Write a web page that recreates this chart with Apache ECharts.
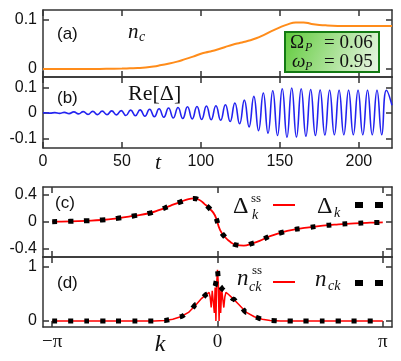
<!DOCTYPE html>
<html>
<head>
<meta charset="utf-8">
<script src="https://cdn.jsdelivr.net/npm/echarts@6.0.0/dist/echarts.min.js"></script>
<style>
html, body { margin: 0; padding: 0; background: #fff; }
#main { width: 401px; height: 361px; }
</style>
</head>
<body>
<div id="main"></div>
<script>
// (a) cavity occupation n_c(t)
var ncTime = [0, 10, 20, 30, 40, 50, 55, 60, 65, 70, 75, 80, 85, 90, 95, 100, 105, 110, 115, 120,
    125, 130, 135, 140, 145, 150, 155, 160, 165, 170, 175, 180, 190, 200, 210, 221];
var ncValue = [0, 0, 0, 0, 0.0005, 0.001, 0.0015, 0.002, 0.003, 0.005, 0.008, 0.011, 0.015, 0.020, 0.025, 0.031, 0.035, 0.039, 0.044, 0.049,
    0.053, 0.057, 0.062, 0.069, 0.077, 0.084, 0.090, 0.094, 0.094, 0.091, 0.089, 0.088, 0.087, 0.087, 0.087, 0.087];

var reTime = [0, 1.5, 4.5, 7.5, 10.5, 13.5, 16.5, 19.5, 22.5, 25.5,
    28.5, 31.5, 34.5, 37.5, 40.5, 43.5, 46.5, 49.5, 52.5, 55.5,
    58.5, 61.5, 64.5, 67.5, 70.5, 73.5, 76.5, 79.5, 82.5, 85.5,
    88.5, 91.5, 94.5, 97.5, 100.5, 103.5, 106.5, 109.5, 112.5, 115.5,
    118.5, 121.5, 124.5, 127.5, 130.5, 133.5, 136.5, 139.5, 142.5, 145.5,
    148.5, 151.5, 154.5, 157.5, 160.5, 163.5, 166.5, 169.5, 172.5, 175.5,
    178.5, 181.5, 184.5, 187.5, 190.5, 193.5, 196.5, 199.5, 202.5, 205.5,
    208.5, 211.5, 214.5, 217.5, 221];
var reValue = [0, 0.0005, -0.001, 0.001, -0.002, 0.002, -0.003, 0.004, -0.004, 0.005,
    -0.006, 0.006, -0.007, 0.007, -0.007, 0.008, -0.008, 0.009, -0.010, 0.011,
    -0.011, 0.012, -0.013, 0.014, -0.015, 0.016, -0.017, 0.019, -0.020, 0.021,
    -0.022, 0.024, -0.024, 0.025, -0.026, 0.027, -0.027, 0.028, -0.029, 0.032,
    -0.034, 0.039, -0.043, 0.050, -0.055, 0.065, -0.070, 0.078, -0.080, 0.087,
    -0.089, 0.095, -0.096, 0.098, -0.095, 0.095, -0.092, 0.092, -0.089, 0.090,
    -0.087, 0.089, -0.086, 0.089, -0.086, 0.089, -0.086, 0.089, -0.086, 0.089,
    -0.086, 0.089, -0.086, 0.089, 0.03];

// (c) Delta_k
var kDelta = [-3.14, -2.8, -2.5, -2.2, -1.9, -1.6, -1.3, -1.1, -0.9, -0.7, -0.55, -0.45, -0.35, -0.25, -0.15, -0.05,
    0.05, 0.15, 0.25, 0.35, 0.5, 0.65, 0.8, 1.0, 1.2, 1.4, 1.7, 2.0, 2.3, 2.6, 2.9, 3.14];
var deltaSS = [0.005, 0.01, 0.018, 0.03, 0.055, 0.09, 0.13, 0.18, 0.24, 0.30, 0.34, 0.35, 0.33, 0.27, 0.20, 0.10,
    -0.12, -0.23, -0.30, -0.34, -0.35, -0.32, -0.28, -0.21, -0.16, -0.12, -0.085, -0.055, -0.035, -0.02, -0.01, -0.005];
var deltaK = [0.005, 0.01, 0.018, 0.03, 0.055, 0.09, 0.13, 0.18, 0.24, 0.30, 0.34, 0.35, 0.33, 0.27, 0.20, 0.10,
    -0.12, -0.23, -0.30, -0.34, -0.35, -0.32, -0.28, -0.21, -0.16, -0.12, -0.085, -0.055, -0.035, -0.02, -0.01, -0.005];

// (d) n_ck
var kNckSS = [-3.14, -2.5, -2.0, -1.5, -1.2, -1.0, -0.85, -0.7, -0.55, -0.4, -0.3, -0.2, -0.16, -0.14, -0.12,
    -0.1, -0.08, -0.06, -0.045, -0.03, -0.015, 0, 0.015, 0.03, 0.045, 0.06, 0.08, 0.1, 0.12, 0.14,
    0.16, 0.2, 0.3, 0.4, 0.55, 0.7, 0.85, 1.0, 1.2, 1.5, 2.0, 2.5, 3.14];
var nckSS = [0, 0, 0, 0, 0.003, 0.012, 0.035, 0.08, 0.16, 0.31, 0.42, 0.50, 0.53, 0.45, 0.25,
    0.56, 0.58, 0.15, 0.62, 0.0, 0.70, 0.95, 0.70, 0.0, 0.62, 0.15, 0.58, 0.56, 0.25, 0.45,
    0.53, 0.50, 0.41, 0.31, 0.16, 0.08, 0.035, 0.012, 0.003, 0, 0, 0, 0];
var kNck = [-3.14, -2.5, -2.0, -1.5, -1.2, -1.0, -0.85, -0.7, -0.55, -0.4, -0.3, -0.2, -0.1, -0.05, -0.02,
    0, 0.02, 0.05, 0.1, 0.2, 0.3, 0.4, 0.55, 0.7, 0.85, 1.0, 1.2, 1.5, 2.0, 2.5, 3.14];
var nck = [0, 0, 0, 0, 0.003, 0.012, 0.035, 0.08, 0.16, 0.31, 0.42, 0.50, 0.58, 0.64, 0.75,
    0.93, 0.75, 0.64, 0.58, 0.50, 0.41, 0.31, 0.16, 0.08, 0.035, 0.012, 0.003, 0, 0, 0, 0];

// ticks
var tTicks = [0, 50, 100, 150, 200];
var ncTicks = [0, 0.1];
var reTicks = [-0.1, 0, 0.1];
var kTicks = [-Math.PI, 0, Math.PI];
var kTickLabels = ['\u2212\u03c0', '0', '\u03c0'];
var deltaTicks = [-0.4, 0, 0.4];
var nTicks = [0, 1];

var AXIS = '#333';
var SANS = '"Liberation Sans", Arial, sans-serif';
var SERIF = '"Liberation Serif", "Times New Roman", serif';

function pairs(xs, ys) {
    var out = [];
    for (var i = 0; i < xs.length; i++) out.push([xs[i], ys[i]]);
    return out;
}

function xAxisPair(grid, min, max, ticks, showLabels, formatter) {
    var line = { show: true, onZero: false, lineStyle: { color: AXIS, width: 1.5 } };
    var bottom = {
        type: 'value', gridIndex: grid, min: min, max: max, position: 'bottom',
        axisLine: line, splitLine: { show: false },
        axisTick: { inside: true, length: 6, customValues: ticks, lineStyle: { color: AXIS, width: 1.5 } },
        axisLabel: {
            show: showLabels, customValues: ticks, margin: 6, color: '#111',
            fontFamily: formatter ? SERIF : SANS, fontSize: formatter ? 19 : 16,
            formatter: formatter
        }
    };
    var top = {
        type: 'value', gridIndex: grid, min: min, max: max, position: 'top',
        axisLine: line, splitLine: { show: false },
        axisTick: { inside: true, length: 6, customValues: ticks, lineStyle: { color: AXIS, width: 1.5 } },
        axisLabel: { show: false }
    };
    return [bottom, top];
}

function yAxisPair(grid, min, max, ticks) {
    var line = { show: true, onZero: false, lineStyle: { color: AXIS, width: 1.5 } };
    var left = {
        type: 'value', gridIndex: grid, min: min, max: max, position: 'left',
        axisLine: line, splitLine: { show: false },
        axisTick: { inside: true, length: 6, customValues: ticks, lineStyle: { color: AXIS, width: 1.5 } },
        axisLabel: { customValues: ticks, margin: 6, color: '#111', fontFamily: SANS, fontSize: 16 }
    };
    var right = {
        type: 'value', gridIndex: grid, min: min, max: max, position: 'right',
        axisLine: line, splitLine: { show: false },
        axisTick: { inside: true, length: 6, customValues: ticks, lineStyle: { color: AXIS, width: 1.5 } },
        axisLabel: { show: false }
    };
    return [left, right];
}

function kLabel(v) {
    if (Math.abs(v) < 1e-9) return kTickLabels[1];
    return v < 0 ? kTickLabels[0] : kTickLabels[2];
}

var xAxes = [].concat(
    xAxisPair(0, 0, 221, tTicks, false),
    xAxisPair(1, 0, 221, tTicks, true),
    xAxisPair(2, -3.315, 3.315, kTicks, false, kLabel),
    xAxisPair(3, -3.315, 3.315, kTicks, true, kLabel)
);
var yAxes = [].concat(
    yAxisPair(0, -0.016, 0.119, ncTicks),
    yAxisPair(1, -0.138, 0.141, reTicks),
    yAxisPair(2, -0.52, 0.52, deltaTicks),
    yAxisPair(3, -0.11, 1.185, nTicks)
);

function txt(x, y, s, font, align) {
    return {
        type: 'text', x: x, y: y, z: 100,
        style: { text: s, font: font, fill: '#111', textAlign: align || 'left', textVerticalAlign: 'middle' }
    };
}

var dashStyle = { color: '#000', width: 5, type: [5, 11], cap: 'butt' };

var chart = echarts.init(document.getElementById('main'));
var option = {
    animation: false,
    backgroundColor: '#fff',
    grid: [
        { left: 43, top: 10, width: 349, height: 67 },
        { left: 43, top: 77, width: 349, height: 71 },
        { left: 43, top: 187, width: 349, height: 70 },
        { left: 43, top: 257, width: 349, height: 70 }
    ],
    xAxis: xAxes,
    yAxis: yAxes,
    series: [
        {
            name: 'nc', type: 'line', xAxisIndex: 0, yAxisIndex: 0, smooth: true, showSymbol: false,
            lineStyle: { color: '#ff8c1a', width: 2 }, data: pairs(ncTime, ncValue)
        },
        {
            name: 'ReDelta', type: 'line', xAxisIndex: 2, yAxisIndex: 2, smooth: true, showSymbol: false,
            lineStyle: { color: '#2323f0', width: 1.6 }, data: pairs(reTime, reValue)
        },
        {
            name: 'DeltaSS', type: 'line', xAxisIndex: 4, yAxisIndex: 4, smooth: true, showSymbol: false,
            lineStyle: { color: '#ff0000', width: 1.8 }, data: pairs(kDelta, deltaSS)
        },
        {
            name: 'DeltaK', type: 'line', xAxisIndex: 4, yAxisIndex: 4, smooth: true, showSymbol: false,
            lineStyle: dashStyle, data: pairs(kDelta, deltaK)
        },
        {
            name: 'nckSS', type: 'line', xAxisIndex: 6, yAxisIndex: 6, smooth: false, showSymbol: false,
            lineStyle: { color: '#ff0000', width: 1.5 }, data: pairs(kNckSS, nckSS)
        },
        {
            name: 'nck', type: 'line', xAxisIndex: 6, yAxisIndex: 6, smooth: 0.3, smoothMonotone: 'x', showSymbol: false,
            lineStyle: dashStyle, data: pairs(kNck, nck)
        }
    ],
    graphic: [
        // panel tags
        txt(57, 34, '(a)', '17px ' + SANS),
        txt(57, 98, '(b)', '17px ' + SANS),
        txt(55, 203, '(c)', '17px ' + SANS),
        txt(57, 283, '(d)', '17px ' + SANS),
        // n_c
        txt(128, 32, 'n', 'italic 21px ' + SERIF),
        txt(139, 37, 'c', 'italic 14px ' + SERIF),
        // Re[Delta]
        txt(128, 94, 'Re[\u0394]', '22px ' + SERIF),
        // axis names
        txt(158, 163, 't', 'italic 22px ' + SERIF, 'center'),
        txt(160, 345, 'k', 'italic 24px ' + SERIF, 'center'),
        // parameter box
        {
            type: 'rect', z: 90,
            shape: { x: 285, y: 32, width: 94, height: 40 },
            style: {
                fill: new echarts.graphic.LinearGradient(0, 0, 1, 1, [
                    { offset: 0, color: '#5fcb3a' },
                    { offset: 1, color: '#eef6ea' }
                ]),
                stroke: '#137a13', lineWidth: 2
            }
        },
        txt(290, 43, '\u03a9', '19px ' + SERIF),
        txt(305, 48, 'P', 'italic 12px ' + SERIF),
        txt(324, 43, '= 0.06', '19px ' + SERIF),
        txt(292, 62, '\u03c9', 'italic 19px ' + SERIF),
        txt(305, 67, 'P', 'italic 12px ' + SERIF),
        txt(324, 62, '= 0.95', '19px ' + SERIF),
        // legend (c)
        txt(233, 207, '\u0394', '24px ' + SERIF),
        txt(251, 199, 'ss', '13px ' + SERIF),
        txt(252, 215, 'k', 'italic 14px ' + SERIF),
        { type: 'line', z: 100, shape: { x1: 273, y1: 205, x2: 295, y2: 205 }, style: { stroke: '#ff0000', lineWidth: 2 } },
        txt(317, 207, '\u0394', '24px ' + SERIF),
        txt(334, 213, 'k', 'italic 14px ' + SERIF),
        { type: 'rect', z: 100, shape: { x: 355, y: 202, width: 8, height: 6 }, style: { fill: '#000' } },
        { type: 'rect', z: 100, shape: { x: 375, y: 202, width: 8, height: 6 }, style: { fill: '#000' } },
        // legend (d)
        txt(237, 279, 'n', 'italic 23px ' + SERIF),
        txt(252, 271, 'ss', '13px ' + SERIF),
        txt(249, 287, 'ck', 'italic 14px ' + SERIF),
        { type: 'line', z: 100, shape: { x1: 273, y1: 282, x2: 295, y2: 282 }, style: { stroke: '#ff0000', lineWidth: 2 } },
        txt(315, 280, 'n', 'italic 23px ' + SERIF),
        txt(328, 286, 'ck', 'italic 14px ' + SERIF),
        { type: 'rect', z: 100, shape: { x: 355, y: 280, width: 8, height: 6 }, style: { fill: '#000' } },
        { type: 'rect', z: 100, shape: { x: 375, y: 280, width: 8, height: 6 }, style: { fill: '#000' } }
    ]
};
chart.setOption(option);
</script>
</body>
</html>
